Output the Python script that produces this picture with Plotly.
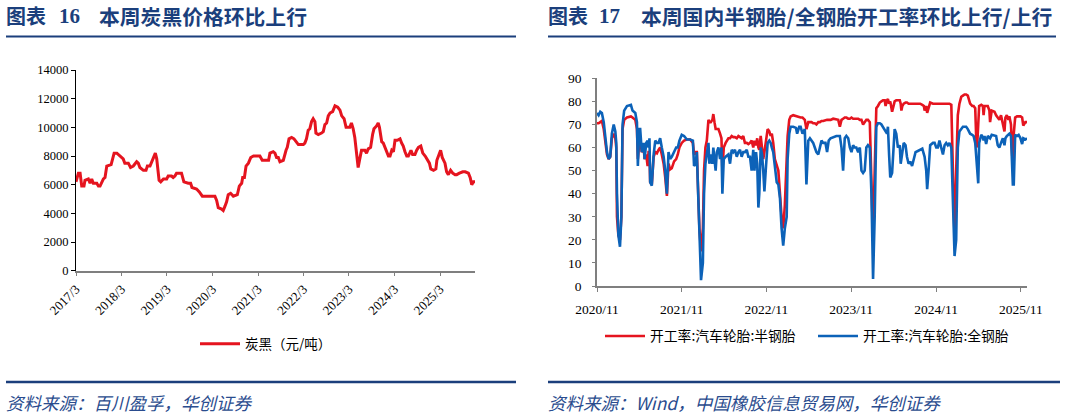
import plotly.graph_objects as go

# ---------------- Data: carbon black price (元/吨) ----------------
cb_dates = [
    "2017-03-01", "2017-03-20", "2017-04-03", "2017-04-16", "2017-05-04", "2017-05-12", "2017-06-08",
    "2017-06-22", "2017-07-05", "2017-07-18", "2017-08-15", "2017-08-28", "2017-09-10", "2017-10-07",
    "2017-10-20", "2017-11-03", "2017-12-08", "2018-01-01", "2018-01-23", "2018-02-19", "2018-03-15",
    "2018-03-28", "2018-04-25", "2018-05-13", "2018-06-04", "2018-07-01", "2018-07-14", "2018-07-27",
    "2018-08-24", "2018-09-14", "2018-09-25", "2018-10-16", "2018-11-12", "2018-11-28", "2018-12-09",
    "2018-12-28", "2019-01-10", "2019-02-01", "2019-02-27", "2019-03-11", "2019-04-07", "2019-04-20",
    "2019-05-04", "2019-05-17", "2019-06-26", "2019-07-15", "2019-08-19", "2019-09-07", "2019-09-18",
    "2019-10-25", "2019-11-16", "2019-12-10", "2020-01-14", "2020-02-24", "2020-03-20", "2020-04-03",
    "2020-04-16", "2020-05-13", "2020-05-26", "2020-06-09", "2020-06-22", "2020-07-05", "2020-07-24",
    "2020-08-15", "2020-09-16", "2020-10-02", "2020-10-21", "2020-10-29", "2020-11-12", "2020-11-25",
    "2020-12-14", "2021-01-02", "2021-01-24", "2021-03-16", "2021-04-04", "2021-05-25", "2021-06-05",
    "2021-07-01", "2021-07-15", "2021-07-28", "2021-08-11", "2021-08-24", "2021-09-20", "2021-10-12",
    "2021-10-22", "2021-11-05", "2021-11-26", "2021-12-15", "2022-01-06", "2022-01-19", "2022-02-28",
    "2022-03-12", "2022-03-25", "2022-04-08", "2022-04-21", "2022-05-05", "2022-05-18", "2022-06-01",
    "2022-06-09", "2022-06-28", "2022-07-24", "2022-08-07", "2022-08-20", "2022-09-03", "2022-09-16",
    "2022-09-30", "2022-10-21", "2022-11-09", "2022-12-01", "2022-12-19", "2023-01-02", "2023-01-21",
    "2023-02-06", "2023-03-08", "2023-03-21", "2023-04-04", "2023-04-17", "2023-05-01", "2023-05-14",
    "2023-05-27", "2023-06-10", "2023-07-07", "2023-07-20", "2023-08-03", "2023-08-22", "2023-09-07",
    "2023-09-18", "2023-10-09", "2023-10-22", "2023-11-01", "2023-11-11", "2023-11-19", "2023-12-02",
    "2023-12-15", "2023-12-29", "2024-01-12", "2024-01-25", "2024-02-08", "2024-02-21", "2024-03-05",
    "2024-03-23", "2024-04-14", "2024-04-27", "2024-05-10", "2024-05-24", "2024-06-07", "2024-06-20",
    "2024-07-03", "2024-07-11", "2024-07-24", "2024-08-12", "2024-08-26", "2024-09-09", "2024-09-28",
    "2024-10-14", "2024-11-02", "2024-11-15", "2024-12-06", "2024-12-17", "2025-01-08", "2025-01-27",
    "2025-02-04", "2025-02-25", "2025-03-06", "2025-03-19", "2025-04-02", "2025-04-10", "2025-04-23",
    "2025-05-07", "2025-05-25", "2025-06-11", "2025-06-30", "2025-07-13", "2025-08-04", "2025-08-31",
    "2025-09-19", "2025-10-15", "2025-10-29", "2025-11-11", "2025-11-25", "2025-12-07",
]
cb_price = [
    6200, 6800, 6800, 5900, 5900, 6300, 6400,
    6100, 6400, 6100, 6100, 5900, 5900, 6400,
    6500, 7300, 7400, 8200, 8200, 8000, 7800,
    7500, 7500, 7200, 7300, 7600, 7500, 7200,
    7000, 7000, 7300, 7300, 7800, 8200, 7800,
    6300, 6200, 6400, 6400, 6600, 6600, 6500,
    6600, 6800, 6800, 6200, 6100, 6100, 5800,
    5700, 5500, 5200, 5200, 5200, 5200, 4900,
    4400, 4300, 4200, 4500, 4800, 5300, 5400,
    5200, 5300, 5900, 6100, 6500, 6500, 7300,
    7500, 7900, 8000, 8000, 7700, 7700, 8200,
    8300, 8200, 7900, 7900, 7600, 7700, 8400,
    8600, 9200, 9300, 9200, 8900, 8800, 8800,
    8900, 9200, 9800, 9900, 10400, 10600, 10400,
    9600, 9500, 9600, 9700, 10200, 10300, 10800,
    11000, 11100, 11500, 11400, 11200, 10800, 10600,
    10000, 10000, 10300, 9900, 9300, 7900, 7200,
    7800, 8400, 8400, 8200, 8500, 8600, 9500,
    9900, 10100, 10300, 10000, 9300, 9000, 8900,
    8600, 8400, 8000, 8000, 8400, 8300, 9100,
    9100, 9200, 8900, 8700, 8300, 8000, 8000,
    8200, 8400, 8100, 8100, 8400, 8600, 8700,
    8200, 8000, 7800, 7500, 7100, 7000, 7100,
    7700, 8200, 8400, 7900, 7700, 7500, 6900,
    6700, 7000, 6800, 6700, 6700, 6800, 6900,
    6900, 6800, 6500, 6000, 6200, 6200,
]
cb_ticks = ["2017-03-01", "2018-03-01", "2019-03-01", "2020-03-01", "2021-03-01",
            "2022-03-01", "2023-03-01", "2024-03-01", "2025-03-01"]
cb_ticktext = ["2017/3", "2018/3", "2019/3", "2020/3", "2021/3",
               "2022/3", "2023/3", "2024/3", "2025/3"]

# ---------------- Data: tyre operating rates (%) ----------------
tyre_dates = [
    "2020-11-01", "2020-11-08", "2020-11-15", "2020-11-22", "2020-11-30", "2020-12-07", "2020-12-14",
    "2020-12-21", "2020-12-28", "2021-01-04", "2021-01-12", "2021-01-19", "2021-01-23", "2021-01-26",
    "2021-02-01", "2021-02-08", "2021-02-14", "2021-02-19", "2021-02-26", "2021-03-10", "2021-03-27",
    "2021-04-03", "2021-04-15", "2021-04-22", "2021-04-26", "2021-05-02", "2021-05-06", "2021-05-13",
    "2021-05-21", "2021-05-25", "2021-06-01", "2021-06-07", "2021-06-11", "2021-06-15", "2021-06-18",
    "2021-06-25", "2021-07-03", "2021-07-10", "2021-07-17", "2021-07-24", "2021-07-31", "2021-08-07",
    "2021-08-15", "2021-08-22", "2021-08-29", "2021-09-05", "2021-09-12", "2021-09-19", "2021-09-29",
    "2021-10-08", "2021-10-15", "2021-10-22", "2021-11-01", "2021-11-11", "2021-11-23", "2021-12-07",
    "2021-12-19", "2021-12-24", "2021-12-31", "2022-01-05", "2022-01-09", "2022-01-16", "2022-01-23",
    "2022-01-31", "2022-02-05", "2022-02-11", "2022-02-17", "2022-02-24", "2022-02-28", "2022-03-06",
    "2022-03-13", "2022-03-17", "2022-03-22", "2022-03-27", "2022-04-01", "2022-04-08", "2022-04-15",
    "2022-04-21", "2022-04-25", "2022-05-01", "2022-05-09", "2022-05-21", "2022-05-28", "2022-06-04",
    "2022-06-11", "2022-06-18", "2022-06-26", "2022-07-03", "2022-07-10", "2022-07-17", "2022-07-24",
    "2022-07-31", "2022-08-08", "2022-08-15", "2022-08-22", "2022-08-29", "2022-09-05", "2022-09-10",
    "2022-09-17", "2022-09-22", "2022-09-27", "2022-10-01", "2022-10-07", "2022-10-13", "2022-10-18",
    "2022-10-23", "2022-10-30", "2022-11-06", "2022-11-13", "2022-11-19", "2022-11-24", "2022-11-30",
    "2022-12-07", "2022-12-15", "2022-12-22", "2022-12-29", "2023-01-05", "2023-01-12", "2023-01-19",
    "2023-01-27", "2023-01-31", "2023-02-07", "2023-02-13", "2023-02-24", "2023-03-08", "2023-03-13",
    "2023-03-22", "2023-03-28", "2023-04-05", "2023-04-15", "2023-04-22", "2023-04-30", "2023-05-07",
    "2023-05-14", "2023-05-21", "2023-05-28", "2023-06-04", "2023-06-12", "2023-06-19", "2023-06-26",
    "2023-07-03", "2023-07-13", "2023-07-20", "2023-07-27", "2023-08-04", "2023-08-15", "2023-08-29",
    "2023-09-06", "2023-09-13", "2023-09-20", "2023-09-27", "2023-10-04", "2023-10-11", "2023-10-19",
    "2023-10-26", "2023-11-02", "2023-11-09", "2023-11-16", "2023-11-23", "2023-12-01", "2023-12-08",
    "2023-12-15", "2023-12-22", "2023-12-29", "2024-01-05", "2024-01-12", "2024-01-20", "2024-01-27",
    "2024-02-03", "2024-02-10", "2024-02-17", "2024-02-24", "2024-03-03", "2024-03-10", "2024-03-17",
    "2024-03-24", "2024-03-28", "2024-04-03", "2024-04-07", "2024-04-12", "2024-04-17", "2024-04-25",
    "2024-05-02", "2024-05-06", "2024-05-13", "2024-05-20", "2024-05-28", "2024-06-01", "2024-06-04",
    "2024-06-08", "2024-06-14", "2024-06-22", "2024-06-28", "2024-07-05", "2024-07-12", "2024-07-20",
    "2024-07-27", "2024-08-04", "2024-08-14", "2024-08-24", "2024-09-02", "2024-09-09", "2024-09-12",
    "2024-09-19", "2024-09-23", "2024-09-29", "2024-10-06", "2024-10-18", "2024-10-25", "2024-11-01",
    "2024-11-08", "2024-11-15", "2024-11-23", "2024-11-30", "2024-12-07", "2024-12-14", "2024-12-21",
    "2024-12-28", "2025-01-05", "2025-01-12", "2025-01-19", "2025-01-26", "2025-02-02", "2025-02-09",
    "2025-02-17", "2025-02-24", "2025-03-03", "2025-03-10", "2025-03-17", "2025-03-27", "2025-04-05",
    "2025-04-11", "2025-04-18", "2025-04-22", "2025-04-26", "2025-05-01", "2025-05-05", "2025-05-14",
    "2025-05-21", "2025-05-24", "2025-05-28", "2025-06-04", "2025-06-11", "2025-06-18", "2025-06-21",
    "2025-06-28", "2025-07-10", "2025-07-17", "2025-07-24", "2025-07-31", "2025-08-07", "2025-08-15",
    "2025-08-22", "2025-08-26", "2025-09-01", "2025-09-08", "2025-09-12", "2025-09-19", "2025-09-27",
    "2025-10-01", "2025-10-07", "2025-10-15", "2025-10-22", "2025-10-30", "2025-11-06", "2025-11-11",
    "2025-11-20", "2025-11-27",
]
semi_steel = [
    70.5, 70.5, 71, 71.5, 68, 62, 57,
    55, 56, 64, 66, 64, 60, 30,
    22, 20, 30, 68, 72, 73, 73.5,
    73, 72, 68, 55, 62, 63, 58,
    60, 55, 57, 52, 58, 58, 45,
    44, 56, 58, 57.5, 59, 60, 57,
    53, 47, 39, 53, 50.5, 51, 54,
    55, 57, 60, 62, 63, 63.5, 63.5,
    62, 57, 58, 58, 45, 25, 15,
    25, 50, 60, 63, 72, 71, 71,
    72, 74.5, 71, 68, 68, 68, 66,
    64, 50, 60, 62, 64, 64, 65,
    64.5, 64.5, 64, 65, 64.5, 64, 65,
    62, 62, 61.5, 62, 63, 60, 63,
    61, 64, 60, 59, 65, 60, 55,
    58, 64, 68, 67, 65, 66, 62,
    55, 52, 50, 40, 30, 25, 35,
    55, 65, 72, 73.5, 74, 73.5, 73.5,
    73, 73, 73, 72, 68, 71, 71,
    71, 70.5, 70.5, 70, 71, 71, 71.5,
    71.5, 72, 72, 72, 72, 72.5, 72,
    72, 69, 72, 72.5, 73, 73, 72.5,
    72.5, 73, 72.5, 72.5, 72.5, 72.5, 72,
    72, 70, 71, 72, 72, 71, 45,
    20, 50, 77, 78, 79.5, 80, 80.5,
    80.5, 78, 80.5, 81, 79, 80, 75.5,
    79, 80, 80.5, 80.5, 80.5, 79, 76,
    78, 79, 79.5, 79.5, 79, 79, 79,
    79, 79, 79, 79, 78.5, 78, 76,
    78, 75, 77, 79.5, 79, 79, 79,
    79, 79, 79, 79, 79, 79, 79,
    79, 78.5, 50, 20, 50, 74, 79,
    82, 82.5, 83, 83, 82.5, 79, 78,
    78, 77, 65, 60, 70, 78, 78.5,
    78, 74, 78, 78, 78, 76, 71,
    76, 75.5, 74, 73, 72, 74, 70,
    67, 73, 74, 72, 73.5, 70, 50,
    66, 73, 73.5, 73.5, 73.5, 73, 69.5,
    71, 71,
]
all_steel = [
    75, 74, 75.5, 75, 71, 65, 58,
    55, 56, 66, 70, 67, 62, 40,
    22, 17, 30, 70, 76, 78, 78.5,
    76, 75, 71, 52, 68, 68, 58,
    62, 55, 62, 63, 60, 64, 45,
    43.5, 57, 63, 62, 62, 64, 60,
    56, 50, 40, 58, 55, 56, 58,
    60, 60, 63, 65.5, 65, 63.5, 63.5,
    63, 52, 53, 58, 45, 20, 2.5,
    10, 40, 53, 58, 62, 53, 57,
    53, 60, 55, 50, 58, 60, 55,
    60, 40, 55, 56, 57, 53, 59,
    58, 59, 56, 58, 59, 56, 58,
    58, 59, 56, 56, 50, 59, 50,
    58, 53, 34, 40, 60, 57, 50,
    41, 52, 62, 63, 62, 60, 58,
    52, 45, 44, 38, 25, 17.5, 25,
    30, 55, 66, 69, 69, 68.5, 66,
    69, 69, 66, 68, 44, 63, 64,
    63, 62, 60, 58, 57, 60, 63,
    62, 62, 58, 63, 64, 64.5, 65,
    65, 65, 60, 50, 64, 65, 64,
    60, 58, 61, 60, 60, 58, 60,
    50, 49, 50, 60, 61, 60, 40,
    3, 30, 69, 70.5, 70.5, 70, 69,
    68, 67, 66, 69, 57, 47, 49,
    62, 68, 66, 60, 61, 53, 55,
    58, 62, 61, 56, 53, 54, 52,
    55, 58, 58.5, 59, 59.5, 57, 56,
    50, 42, 50, 61, 62, 62, 60,
    60, 63, 60, 57, 61, 62, 61,
    62, 60, 40, 13, 20, 60, 67,
    68, 69, 69, 69, 68, 66, 65.5,
    65, 62, 55, 52, 44.5, 62, 65.5,
    64.5, 63, 65, 61.5, 65, 64.5, 64,
    65.5, 65, 65, 61, 60, 62, 64,
    61, 64, 65, 65.5, 66, 65, 44,
    44, 65.5, 65, 65.5, 64, 61.5, 64,
    63.5, 64,
]
tyre_ticks = ["2020-11-01", "2021-11-01", "2022-11-01", "2023-11-01", "2024-11-01", "2025-11-01"]
tyre_ticktext = ["2020/11", "2021/11", "2022/11", "2023/11", "2024/11", "2025/11"]

# ---------------- Styling ----------------
W, H = 1066, 416
RED = "#E5141F"
BLUE = "#0C62B8"
NAVY = "#1B3F7C"
SRC = "#2A4C8E"
SERIF = "Liberation Serif, Times New Roman, serif"
CJK = "Noto Sans CJK SC, sans-serif"


def px(x):
    return x / W


def py(y):
    return 1 - y / H


fig = go.Figure()
fig.add_trace(go.Scatter(x=cb_dates, y=cb_price, mode="lines", name="炭黑（元/吨）",
                         line=dict(color=RED, width=3), xaxis="x", yaxis="y", legend="legend"))
fig.add_trace(go.Scatter(x=tyre_dates, y=semi_steel, mode="lines", name="开工率:汽车轮胎:半钢胎",
                         line=dict(color=RED, width=2.6), xaxis="x2", yaxis="y2", legend="legend2"))
fig.add_trace(go.Scatter(x=tyre_dates, y=all_steel, mode="lines", name="开工率:汽车轮胎:全钢胎",
                         line=dict(color=BLUE, width=2.6), xaxis="x2", yaxis="y2", legend="legend3"))

base = dict(showgrid=False, zeroline=False, showline=True, ticks="outside",
            tickwidth=1, automargin=False)

legend_common = dict(orientation="h", xanchor="left", yanchor="middle",
                     bgcolor="rgba(0,0,0,0)", itemwidth=40)

fig.update_layout(
    width=W, height=H, margin=dict(l=0, r=0, t=0, b=0, autoexpand=False),
    paper_bgcolor="white", plot_bgcolor="white",
    xaxis=dict(domain=[px(76), px(475)], anchor="y", type="date",
               range=["2017-03-01", "2025-12-07"], tickmode="array",
               tickvals=cb_ticks, ticktext=cb_ticktext, tickangle=-45, ticklen=4,
               tickfont=dict(family=SERIF, size=13, color="#000000"),
               linecolor="#7F7F7F", tickcolor="#7F7F7F", linewidth=1.5, **base),
    yaxis=dict(domain=[py(270.7), py(70)], anchor="x", range=[0, 14000], dtick=2000,
               tickformat="d", ticklen=4,
               tickfont=dict(family=SERIF, size=12.5, color="#000000"),
               linecolor="#000000", tickcolor="#000000", linewidth=1.2, **base),
    xaxis2=dict(domain=[px(597), px(1027)], anchor="y2", type="date",
                range=["2020-11-01", "2025-11-27"], tickmode="array",
                tickvals=tyre_ticks, ticktext=tyre_ticktext, tickangle=0, ticklen=4,
                ticklabelstandoff=6,
                tickfont=dict(family=SERIF, size=13.5, color="#000000"),
                linecolor="#7F7F7F", tickcolor="#7F7F7F", linewidth=1.5, **base),
    yaxis2=dict(domain=[py(286), py(78.3)], anchor="x2", range=[0, 90], dtick=10, ticklen=3,
                ticklabelstandoff=8,
                tickfont=dict(family=SERIF, size=13.5, color="#000000"),
                linecolor="#7F7F7F", tickcolor="#7F7F7F", linewidth=1.5, **base),
    legend=dict(x=px(195), y=py(344), font=dict(family=CJK, size=13.5, color="#000000"),
                **legend_common),
    legend2=dict(x=px(600), y=py(336), font=dict(family=CJK, size=13.8, color="#000000"),
                 **legend_common),
    legend3=dict(x=px(813), y=py(336), font=dict(family=CJK, size=13.8, color="#000000"),
                 **legend_common),
    showlegend=True,
)

# Title rules and footer rules
shapes = []
for x0, x1 in [(6, 516), (548, 1056)]:
    shapes.append(dict(type="line", xref="paper", yref="paper", x0=px(x0), x1=px(x1),
                       y0=py(36.5), y1=py(36.5), line=dict(color=NAVY, width=2)))
for x0, x1 in [(6, 516), (548, 1060)]:
    shapes.append(dict(type="line", xref="paper", yref="paper", x0=px(x0), x1=px(x1),
                       y0=py(382), y1=py(382), line=dict(color=NAVY, width=2.5)))
fig.update_layout(shapes=shapes)

ann = []


def text(x, y, s, size, family, color, bold=False, italic=False):
    ann.append(dict(xref="paper", yref="paper", x=px(x), y=py(y), xanchor="left",
                    yanchor="middle", showarrow=False, text=s, borderpad=0,
                    font=dict(family=family, size=size, color=color,
                              weight="bold" if bold else "normal",
                              style="italic" if italic else "normal")))


# Titles
text(5, 16, "图表", 20, CJK, NAVY, bold=True)
text(58, 16, "16", 21, SERIF, NAVY, bold=True)
text(98, 16, "本周炭黑价格环比上行", 20.8, CJK, NAVY, bold=True)
text(547, 16, "图表", 20, CJK, NAVY, bold=True)
text(598, 16, "17", 21, SERIF, NAVY, bold=True)
text(640, 16, "本周国内半钢胎/全钢胎开工率环比上行/上行", 20.8, CJK, NAVY, bold=True)
# Sources
text(5, 402, "资料来源：百川盈孚，华创证券", 17.5, CJK, SRC, italic=True)
text(547, 402, "资料来源：Wind，中国橡胶信息贸易网，华创证券", 17.5, CJK, SRC, italic=True)
fig.update_layout(annotations=ann)

fig.write_html("out.html")
